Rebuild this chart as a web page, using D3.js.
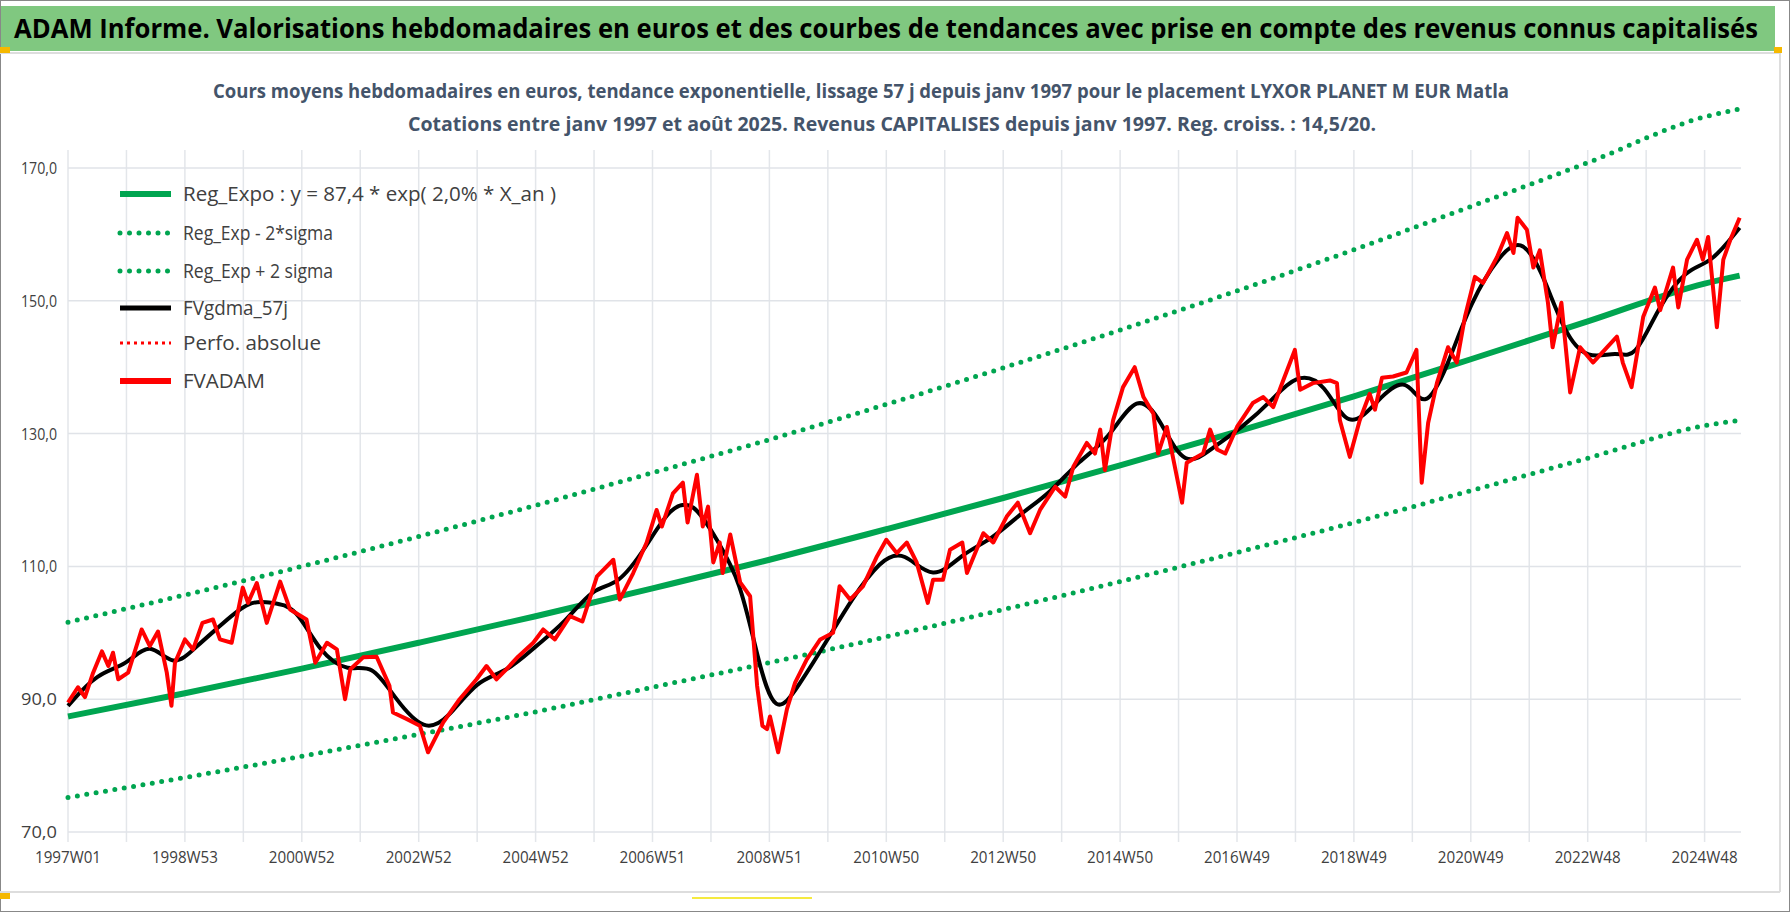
<!DOCTYPE html>
<html><head><meta charset="utf-8">
<script src="https://cdn.jsdelivr.net/npm/d3@7"></script>
<style>body{margin:0;background:#fff}svg{display:block}</style>
</head><body>
<script>
const titleText = "ADAM Informe. Valorisations hebdomadaires en euros et des courbes de tendances avec prise en compte des revenus connus capitalisés";
const subtitle1 = "Cours moyens hebdomadaires en euros, tendance exponentielle, lissage 57 j depuis janv 1997  pour le placement LYXOR PLANET M EUR Matla";
const subtitle2 = "Cotations entre janv 1997 et août 2025.  Revenus CAPITALISES  depuis janv 1997. Reg.  croiss. : 14,5/20.";
const legendLabels = ["Reg_Expo : y = 87,4 * exp( 2,0% *  X_an )","Reg_Exp - 2*sigma","Reg_Exp + 2 sigma","FVgdma_57j","Perfo. absolue","FVADAM"];
const xTickYears = [1997,1999,2001,2003,2005,2007,2009,2011,2013,2015,2017,2019,2021,2023,2025];
const xTickLabels = ["1997W01","1998W53","2000W52","2002W52","2004W52","2006W51","2008W51","2010W50","2012W50","2014W50","2016W49","2018W49","2020W49","2022W48","2024W48"];
const yTicks = [70,90,110,130,150,170];

const fvYears = [1997.0,1997.17,1997.29,1997.43,1997.58,1997.69,1997.77,1997.86,1998.03,1998.26,1998.4,1998.54,1998.69,1998.77,1998.83,1999.0,1999.14,1999.3,1999.48,1999.6,1999.8,1999.99,2000.08,2000.23,2000.4,2000.63,2000.8,2001.08,2001.23,2001.43,2001.6,2001.74,2001.83,2002.05,2002.28,2002.5,2002.56,2002.8,2003.02,2003.16,2003.42,2003.7,2003.99,2004.16,2004.33,2004.5,2004.7,2004.96,2005.13,2005.33,2005.59,2005.8,2006.05,2006.33,2006.44,2006.67,2006.9,2007.07,2007.16,2007.35,2007.52,2007.6,2007.76,2007.86,2007.95,2008.04,2008.15,2008.2,2008.33,2008.5,2008.67,2008.79,2008.88,2008.96,2009.01,2009.15,2009.3,2009.44,2009.64,2009.87,2010.09,2010.2,2010.38,2010.6,2010.84,2011.0,2011.18,2011.35,2011.52,2011.71,2011.8,2011.97,2012.09,2012.3,2012.38,2012.66,2012.83,2013.06,2013.25,2013.46,2013.63,2013.89,2014.06,2014.2,2014.43,2014.57,2014.66,2014.74,2014.88,2015.05,2015.25,2015.4,2015.57,2015.65,2015.8,2016.06,2016.14,2016.42,2016.54,2016.66,2016.8,2017.0,2017.27,2017.45,2017.62,2017.79,2017.99,2018.08,2018.3,2018.59,2018.71,2018.76,2018.93,2019.1,2019.27,2019.36,2019.48,2019.67,2019.9,2020.07,2020.16,2020.27,2020.42,2020.61,2020.76,2020.9,2021.07,2021.21,2021.45,2021.62,2021.73,2021.8,2021.96,2022.07,2022.18,2022.32,2022.4,2022.55,2022.7,2022.87,2023.09,2023.33,2023.5,2023.6,2023.75,2023.95,2024.15,2024.24,2024.46,2024.55,2024.7,2024.87,2024.97,2025.06,2025.21,2025.32,2025.44,2025.6];
const fvValues = [89.5,91.8,90.3,94,97.2,95,97,93,94,100.5,98,100.2,94,89,95.5,99,97.5,101.5,102,99,98.5,106.8,104.5,107.5,101.5,107.7,103.5,102,95.5,98.5,97.5,90,94.5,96.3,96.4,92,88,87,86,82,86.5,90,93,95,93,94.5,96.4,98.5,100.5,99,102.5,101.7,108.5,111,105,109,113.6,118.5,116,121,122.6,116.6,123.8,116,119,110.6,113.6,109,114.8,107.6,105.5,92,86,85.5,87.4,82,88.5,92.5,96,99,100,107,105,107,111.5,114,112,113.6,110.6,104.5,108,108,112.5,113.6,109,115,113.6,117.5,119.6,115,118.5,122,120.5,125,128.6,127,130.6,124.5,132,137,140,135.5,133,127,131,119.6,125.6,127,130.6,127.6,127,131,134.6,135.5,134,138,142.6,136.6,137.6,138,137.6,132,126.5,132,136,133.6,138.4,138.6,139.2,142.6,122.6,131.6,137.6,143,140.7,147.6,153.6,152.7,156.6,160.2,157.2,162.5,160.7,155,157.6,149.7,143,149.7,136.2,143,140.7,143,144.6,140.7,137,147.6,152,148.6,155,149,156.2,159.2,156.2,159.6,146,156.2,159.2,162.5];

const smYears = [1997.0,1997.5,1998.0,1998.4,1998.8,1999.2,1999.6,2000.1,2000.5,2000.9,2001.3,2001.8,2002.2,2002.6,2003.1,2003.5,2004.0,2004.5,2005.0,2005.5,2006.0,2006.4,2006.9,2007.3,2007.7,2008.1,2008.5,2008.8,2009.1,2009.5,2010.0,2010.4,2010.9,2011.3,2011.8,2012.3,2012.8,2013.3,2013.8,2014.3,2014.8,2015.3,2015.7,2016.1,2016.6,2017.1,2017.6,2018.0,2018.5,2018.9,2019.4,2019.9,2020.2,2020.6,2021.0,2021.5,2021.85,2022.2,2022.6,2023.0,2023.5,2023.8,2024.2,2024.7,2025.1,2025.6];
const smValues = [89,94,95,99,94.5,98,101,105,104.5,104,97,94,95.5,90,85,87,93,94,98,101.5,107,107,113,119,120,114,108,96,87,92,99,105,111,112.5,107.5,112,114,118,121,126,129,136.5,132,124.5,128,131,135,139,138,130,135,139,133,140,150,157,159.5,155,145,141,142.5,141,149,155,155.5,161];

const trYears = [1997,1999,2001,2003,2005,2007,2009,2011,2013,2015,2017,2019,2021,2023,2025,2025.6];
const trMid   = [87.4,90.9,94.6,98.5,102.5,106.7,111.0,115.6,120.3,125.2,130.3,135.6,141.2,146.9,152.6,153.8];
const trLow   = [75.2,78.2,81.4,84.7,88.1,91.8,95.5,99.4,103.5,107.7,112.1,116.6,121.4,126.3,131.2,132.0];
const trHigh  = [101.6,105.7,110.0,114.5,119.2,124.1,129.1,134.4,139.9,145.6,151.5,157.7,164.2,170.8,177.7,178.9];

const W=1790,H=912;
const FONT="'Open Sans','Liberation Sans',Arial,sans-serif";
const svg=d3.select("body").append("svg").attr("width",W).attr("height",H);
svg.append("rect").attr("x",0.5).attr("y",0.5).attr("width",W-1).attr("height",H-1).attr("fill","#fff").attr("stroke","#888");
svg.append("rect").attr("x",1).attr("y",6).attr("width",1774).attr("height",45).attr("fill","#80c880");
svg.append("text").attr("x",14).attr("y",38).attr("font-family",FONT).attr("font-weight","bold").attr("font-size",26).attr("fill","#000")
  .attr("textLength",1744).attr("lengthAdjust","spacingAndGlyphs").text(titleText);
svg.append("line").attr("x1",0).attr("x2",1780).attr("y1",53).attr("y2",53).attr("stroke","#ddd").attr("stroke-width",2);
svg.append("line").attr("x1",0).attr("x2",1780).attr("y1",892).attr("y2",892).attr("stroke","#ddd").attr("stroke-width",2);
svg.append("line").attr("x1",1780).attr("x2",1780).attr("y1",53).attr("y2",892).attr("stroke","#ddd").attr("stroke-width",2);
svg.append("rect").attr("x",0).attr("y",47).attr("width",10).attr("height",6).attr("fill","#f5b800");
svg.append("rect").attr("x",0).attr("y",893).attr("width",10).attr("height",6).attr("fill","#f5b800");
svg.append("rect").attr("x",1774).attr("y",47).attr("width",8).attr("height",6).attr("fill","#f5b800");
svg.append("line").attr("x1",692).attr("x2",812).attr("y1",898).attr("y2",898).attr("stroke","#f5ea40").attr("stroke-width",2);

svg.append("text").attr("x",213).attr("y",98).attr("font-family",FONT).attr("font-weight","bold").attr("font-size",20).attr("fill","#44546a")
  .attr("textLength",1296).attr("lengthAdjust","spacingAndGlyphs").text(subtitle1);
svg.append("text").attr("x",408).attr("y",131).attr("font-family",FONT).attr("font-weight","bold").attr("font-size",20).attr("fill","#44546a")
  .attr("textLength",968).attr("lengthAdjust","spacingAndGlyphs").text(subtitle2);

const x=d3.scaleLinear().domain([1997,1997+(1741-68)/58.45]).range([68,1741]);
const y=d3.scaleLinear().domain([70,170]).range([832,168]);

const g=svg.append("g");
d3.range(1997,2026).forEach(yr=>{
  g.append("line").attr("x1",x(yr)).attr("x2",x(yr)).attr("y1",150).attr("y2",842).attr("stroke","#e3e6ea").attr("stroke-width",1.5);
});
yTicks.forEach(v=>{
  g.append("line").attr("x1",68).attr("x2",1741).attr("y1",y(v)).attr("y2",y(v)).attr("stroke","#e0e3e8").attr("stroke-width",1.5);
  g.append("text").attr("x",57).attr("y",y(v)+6).attr("text-anchor","end").attr("font-family",FONT).attr("font-size",16).attr("fill","#404040")
    .attr("textLength",36).attr("lengthAdjust","spacingAndGlyphs").text(d3.format(".1f")(v).replace(".",","));
});
xTickYears.forEach((yr,i)=>{
  g.append("text").attr("x",x(yr)-33).attr("y",863).attr("font-family",FONT).attr("font-size",16).attr("fill","#404040")
    .attr("textLength",66).attr("lengthAdjust","spacingAndGlyphs").text(xTickLabels[i]);
});

const line=(xs,vs,curve)=>d3.line().x((d,i)=>x(xs[i])).y(d=>y(d)).curve(curve)(vs);
const dotted={"stroke":"#00a550","stroke-width":5,"stroke-dasharray":"0 9.5","stroke-linecap":"round","fill":"none"};
function ap(p,attrs){for(const k in attrs)p.attr(k,attrs[k]);return p;}
ap(g.append("path").attr("d",line(trYears,trHigh,d3.curveMonotoneX)),dotted);
ap(g.append("path").attr("d",line(trYears,trLow,d3.curveMonotoneX)),dotted);
g.append("path").attr("d",line(trYears,trMid,d3.curveMonotoneX)).attr("fill","none").attr("stroke","#00a550").attr("stroke-width",6);
g.append("path").attr("d",line(smYears,smValues,d3.curveBasis)).attr("fill","none").attr("stroke","#000").attr("stroke-width",4);
g.append("path").attr("d",line(fvYears,fvValues,d3.curveLinear)).attr("fill","none").attr("stroke","#ff0000").attr("stroke-width",4).attr("stroke-linejoin","round");

const lg=svg.append("g");
const rowsY=[194,233,271,308,343,381];
const styles=[
 {"stroke":"#00a550","stroke-width":6},
 dotted,dotted,
 {"stroke":"#000","stroke-width":5},
 {"stroke":"#ff0000","stroke-width":3,"stroke-dasharray":"3 4"},
 {"stroke":"#ff0000","stroke-width":6}
];
const lgLens=[373,150,150,105,138,82];
legendLabels.forEach((t,i)=>{
  ap(lg.append("line").attr("x1",120).attr("x2",171).attr("y1",rowsY[i]).attr("y2",rowsY[i]),styles[i]);
  lg.append("text").attr("x",183).attr("y",rowsY[i]+7).attr("font-family",FONT).attr("font-size",20).attr("fill","#404040")
    .attr("textLength",lgLens[i]).attr("lengthAdjust","spacingAndGlyphs").text(t);
});
</script>
</body></html>
